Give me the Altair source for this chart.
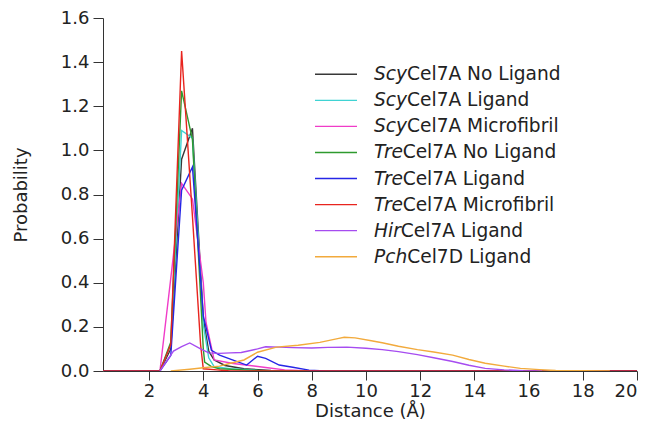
import altair as alt
import pandas as pd

# ---------------- data ----------------
prefixes = ["Scy", "Scy", "Scy", "Tre", "Tre", "Tre", "Hir", "Pch"]
suffixes = ["Cel7A No Ligand", "Cel7A Ligand", "Cel7A Microfibril",
            "Cel7A No Ligand", "Cel7A Ligand", "Cel7A Microfibril",
            "Cel7A Ligand", "Cel7D Ligand"]
colors = ["#383838", "#3fd3d3", "#f03cc8", "#2e9a2e",
          "#2626e6", "#e8241e", "#a64cf0", "#f2aa3c"]

scy_nolig_x = [0.3, 2.4, 2.8, 3.2, 3.6, 4.0, 4.2, 4.4, 4.8, 5.5, 6.5, 7.5, 20.0]
scy_nolig_y = [0.0, 0.0, 0.10, 0.96, 1.10, 0.24, 0.09, 0.05, 0.025, 0.01, 0.003, 0.0, 0.0]

scy_lig_x = [0.3, 2.4, 2.8, 3.2, 3.6, 4.0, 4.2, 4.4, 5.0, 6.0, 7.0, 20.0]
scy_lig_y = [0.0, 0.0, 0.12, 1.09, 1.055, 0.21, 0.06, 0.02, 0.01, 0.003, 0.0, 0.0]

scy_micro_x = [0.3, 2.4, 2.8, 3.2, 3.6, 4.0, 4.1, 4.4, 5.1, 6.3, 7.0, 8.0, 20.0]
scy_micro_y = [0.0, 0.0, 0.42, 0.85, 0.78, 0.40, 0.22, 0.05, 0.034, 0.016, 0.005, 0.0, 0.0]

tre_nolig_x = [0.3, 2.4, 2.8, 3.2, 3.6, 4.0, 4.05, 4.3, 4.6, 5.5, 6.5, 20.0]
tre_nolig_y = [0.0, 0.0, 0.13, 1.27, 1.05, 0.10, 0.04, 0.02, 0.01, 0.005, 0.0, 0.0]

tre_lig_x = [0.3, 2.4, 2.8, 3.2, 3.6, 4.0, 4.3, 4.6, 5.1, 5.6, 6.0, 6.3, 6.8, 7.3, 7.9, 8.5, 20.0]
tre_lig_y = [0.0, 0.0, 0.07, 0.82, 0.925, 0.25, 0.094, 0.072, 0.049, 0.027, 0.067, 0.057, 0.027, 0.017, 0.004, 0.0, 0.0]

tre_micro_x = [0.3, 2.4, 2.8, 3.2, 3.6, 3.9, 4.0, 4.5, 5.0, 20.0]
tre_micro_y = [0.0, 0.0, 0.12, 1.45, 0.70, 0.12, 0.01, 0.005, 0.0, 0.0]

hir_lig_x = [2.4, 2.9, 3.2, 3.5, 3.9, 4.2, 4.6, 5.0, 5.4, 5.7, 6.0, 6.3, 6.8, 7.3, 8.0,
             8.6, 9.3, 10.0, 10.6, 11.2, 11.9, 12.5, 13.2, 13.8, 14.4, 15.1, 15.8, 16.5]
hir_lig_y = [0.0, 0.09, 0.11, 0.127, 0.10, 0.082, 0.08, 0.082, 0.084, 0.092, 0.10, 0.11, 0.108,
             0.106, 0.104, 0.107, 0.108, 0.103, 0.097, 0.088, 0.074, 0.06, 0.043, 0.026, 0.012,
             0.005, 0.001, 0.0]

pch_lig_x = [2.8, 3.5, 4.0, 4.6, 5.0, 5.5, 6.0, 6.7, 7.5, 8.3, 9.0, 9.2, 9.6, 10.2, 10.6, 11.2,
             11.9, 12.5, 13.2, 13.8, 14.4, 15.1, 15.7, 16.4, 17.0, 18.0, 19.0]
pch_lig_y = [0.0, 0.008, 0.015, 0.022, 0.035, 0.05, 0.085, 0.108, 0.117, 0.13, 0.148, 0.153, 0.15,
             0.137, 0.128, 0.112, 0.097, 0.086, 0.072, 0.052, 0.035, 0.022, 0.012, 0.006, 0.002,
             0.001, 0.0]

series_x = [scy_nolig_x, scy_lig_x, scy_micro_x, tre_nolig_x, tre_lig_x, tre_micro_x, hir_lig_x, pch_lig_x]
series_y = [scy_nolig_y, scy_lig_y, scy_micro_y, tre_nolig_y, tre_lig_y, tre_micro_y, hir_lig_y, pch_lig_y]

x_ticks = [2, 4, 6, 8, 10, 12, 14, 16, 18, 20]
y_ticks = [0.0, 0.2, 0.4, 0.6, 0.8, 1.0, 1.2, 1.4, 1.6]

# ---------------- layout ----------------
W, H = 534, 353
TOP = 10
FONT = "DejaVu Sans"
LEG_FS = 18.6
AX_FS = 18

x_scale = alt.Scale(domain=[0.3, 20], nice=False, zero=False)
y_scale = alt.Scale(domain=[0, 1.6], nice=False)
x_axis = alt.Axis(values=x_ticks, title="Distance (Å)", grid=False, tickSize=9,
                  labelPadding=2, titlePadding=2)
y_axis = alt.Axis(values=y_ticks, format=".1f", title="Probability", grid=False, tickSize=10,
                  labelPadding=4, titlePadding=30)

line_layers = []
for i, (xs, ys) in enumerate(zip(series_x, series_y)):
    df = pd.DataFrame({"x": xs, "y": ys, "i": list(range(len(xs)))})
    line_layers.append(
        alt.Chart(df).mark_line(color=colors[i], strokeWidth=1.4, clip=True).encode(
            x=alt.X("x:Q", scale=x_scale, axis=x_axis),
            y=alt.Y("y:Q", scale=y_scale, axis=y_axis),
            order="i:Q",
        )
    )
main = alt.layer(*line_layers)

# custom legend (italic prefix + upright suffix)
prefix_em = {"Scy": 1.777, "Tre": 1.54, "Hir": 1.441, "Pch": 1.787}
row_y0, row_step = 74.3 - 8 - TOP, 26.06
text_x = 271
leg = pd.DataFrame({
    "prefix": prefixes,
    "suffix": suffixes,
    "color": colors,
    "py": [row_y0 + k * row_step for k in range(len(prefixes))],
    "sx": [text_x + prefix_em[p] * LEG_FS for p in prefixes],
})
leg_rule = alt.Chart(leg).mark_rule(strokeWidth=1.4).encode(
    x=alt.value(212), x2=alt.value(254),
    y=alt.Y("py:Q", scale=None, axis=None),
    color=alt.Color("color:N", scale=None, legend=None),
)
leg_pre = alt.Chart(leg).mark_text(
    font=FONT, fontSize=LEG_FS, fontStyle="italic", align="left", baseline="middle", color="#222222"
).encode(
    x=alt.value(text_x),
    y=alt.Y("py:Q", scale=None, axis=None),
    text="prefix:N",
)
leg_suf = alt.Chart(leg).mark_text(
    font=FONT, fontSize=LEG_FS, align="left", baseline="middle", color="#222222"
).encode(
    x=alt.X("sx:Q", scale=None, axis=None),
    y=alt.Y("py:Q", scale=None, axis=None),
    text="suffix:N",
)
legend = alt.layer(leg_rule, leg_pre, leg_suf)

chart = alt.layer(main, legend).resolve_scale(
    x="independent", y="independent"
).properties(
    width=W, height=H,
    autosize=alt.AutoSizeParams(type="none"),
    padding={"left": 95, "top": TOP, "right": 5, "bottom": 441 - 16 - TOP - H},
    background="white",
).configure_view(stroke=None).configure_axis(
    domainColor="#333333", tickColor="#333333", domainWidth=1, tickWidth=1,
    labelFont=FONT, labelFontSize=AX_FS, labelColor="#222222",
    titleFont=FONT, titleFontSize=AX_FS, titleFontWeight="normal", titleColor="#222222",
)

chart.save("out.html", embed_options={"renderer": "svg", "actions": False})
